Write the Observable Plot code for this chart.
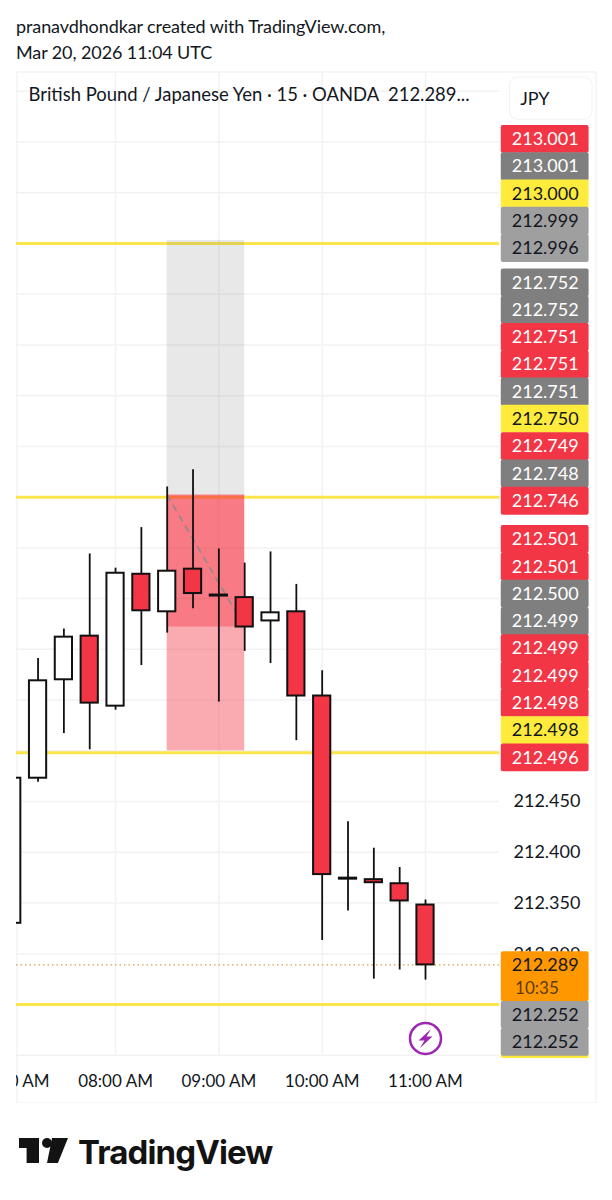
<!DOCTYPE html>
<html><head><meta charset="utf-8">
<script src="https://cdn.jsdelivr.net/npm/d3@7"></script>
<script src="https://cdn.jsdelivr.net/npm/@observablehq/plot@0.6"></script>
<style>
html,body{margin:0;padding:0;background:#fff;width:612px;height:1200px;overflow:hidden}
body{font-family:Lato,sans-serif;color:#131722}
#head{height:71px;box-sizing:border-box;padding:13px 0 0 16px;font-size:18px;line-height:26px;letter-spacing:-.1px;white-space:nowrap}
#chart{height:1032px}
#chart svg{display:block}
#foot{position:relative;height:97px}
#foot div{position:absolute;background:#131313}
#foot .word{background:none;left:78px;top:27px;font:700 33px/44px Inter,sans-serif;letter-spacing:-.9px;color:#131313}
</style></head><body>
<div id="head">pranavdhondkar created with TradingView.com,<br>Mar 20, 2026 11:04 UTC</div>
<div id="chart"></div>
<div id="foot">
 <div style="left:19px;top:35px;width:20px;height:25px;clip-path:polygon(0 0,100% 0,100% 100%,38% 100%,38% 40%,0 40%)"></div>
 <div style="left:42px;top:35px;width:10px;height:10px;border-radius:50%"></div>
 <div style="left:47px;top:35px;width:21px;height:25px;clip-path:polygon(24% 0,100% 0,52% 100%,0 100%)"></div>
 <div class="word">TradingView</div>
</div>
<script>
const at=(h,m=0)=>new Date(Date.UTC(2026,2,20,h,m));
const shift=(d,m)=>new Date(+d+m*60000);
// candles, 15 minute bars
const barHours =[7,7,7,7,8,8,8,8,9,9,9,9,10,10,10,10,11];
const barMins  =[0,15,30,45,0,15,30,45,0,15,30,45,0,15,30,45,0];
const opens =[212.330,212.473,212.570,212.613,212.544,212.674,212.637,212.679,212.6535,212.651,212.628,212.637,212.554,212.3745,212.373,212.369,212.348];
const closes=[212.473,212.569,212.612,212.547,212.675,212.638,212.677,212.655,212.6525,212.622,212.636,212.554,212.378,212.3735,212.370,212.352,212.289];
const highs =[212.480,212.591,212.620,212.694,212.680,212.720,212.760,212.777,212.699,212.685,212.696,212.664,212.579,212.430,212.404,212.385,212.353];
const lows  =[212.320,212.469,212.517,212.501,212.540,212.584,212.616,212.640,212.548,212.598,212.586,212.510,212.313,212.342,212.275,212.284,212.274];
const candles=opens.map((o,i)=>({t:at(barHours[i],barMins[i]),o,c:closes[i],h:highs[i],l:lows[i]}));
const halfBar=5; // minutes

const levels=[213.000,212.750,212.498,212.250];
const lastPrice=212.289;
const gridPrices=d3.range(0,20).map(i=>212.2+i*0.05);
const hourTicks=[at(7),at(8),at(9),at(10),at(11)];
const priceTicks=[212.45,212.40,212.35,212.30];
// position tool
const zoneLeft=at(8,30), zoneRight=at(9,15);
const stopTop=213.003, entry=212.752, target=212.500, reached=212.622;

// price tags: value, colour, stacks read bottom-up from a base price
const stackStep=0.0269;
const RED="#f23645",GR="#7f7f7f",LG="#9f9f9f",YE="#ffeb3b";
const stackBases=[212.995,212.746,212.493,212.2126];
const stackValues=[
 ["213.001","213.001","213.000","212.999","212.996"],
 ["212.752","212.752","212.751","212.751","212.751","212.750","212.749","212.748","212.746"],
 ["212.501","212.501","212.500","212.499","212.499","212.499","212.498","212.498","212.496"],
 ["212.252","212.252"]];
const stackFills=[
 [RED,GR,YE,LG,LG],
 [GR,GR,RED,RED,GR,YE,RED,GR,RED],
 [RED,RED,GR,GR,RED,RED,RED,YE,RED],
 [LG,LG]];
const tags=stackValues.flatMap((vals,g)=>vals.map((label,i)=>({
  label,fill:stackFills[g][i],
  y:stackBases[g]+(vals.length-1-i)*stackStep,
  ink:(stackFills[g][i]===RED||stackFills[g][i]===GR)?"#fff":"#131722"})));
const chartStart=new Date(Date.UTC(2026,2,20,7,2,29));
const tagLeft=at(11,44), tagRight=at(12,35), tagMid=new Date(Date.UTC(2026,2,20,12,9,30)), chartEnd=at(11,43);

// lightning icon drawn as a custom dot symbol
const boltSymbol={draw(c){
  c.moveTo(5.5,-9.5);c.lineTo(-7,2);c.lineTo(-1,2);c.lineTo(-5.5,9.5);c.lineTo(7,-2);c.lineTo(1,-2);c.closePath();
}};

const chart=Plot.plot({
  width:612,height:1032,
  marginLeft:16,marginRight:16,marginTop:0,marginBottom:0,
  style:{fontFamily:"Lato,sans-serif",background:"#fff",color:"#131722"},
  x:{type:"utc",domain:[chartStart,new Date(Date.UTC(2026,2,20,12,39,18))],axis:null},
  y:{domain:[212.1524,213.1695],axis:null},
  marks:[
    Plot.ruleY(gridPrices,{x1:chartStart,x2:chartEnd,stroke:"#f2f2f2",strokeWidth:1.5}),
    Plot.ruleX(hourTicks,{y1:212.2,y2:213.1695,stroke:"#f2f2f2",strokeWidth:1.5,clip:true}),
    Plot.frame({stroke:"#eeeeee",inset:0.5}),
    Plot.ruleY(levels,{x1:chartStart,x2:chartEnd,stroke:"#fbe54a",strokeWidth:3}),
    // position tool
    Plot.rect([0],{x1:zoneLeft,x2:zoneRight,y1:entry,y2:stopTop,fill:"#808080",fillOpacity:.18}),
    Plot.rect([0],{x1:zoneLeft,x2:zoneRight,y1:target,y2:entry,fill:RED,fillOpacity:.42}),
    Plot.rect([0],{x1:zoneLeft,x2:zoneRight,y1:reached,y2:entry,fill:RED,fillOpacity:.42}),
    Plot.line([[zoneLeft,entry],[zoneRight,reached]],{stroke:"#8a8a8a",strokeWidth:1.5,strokeDasharray:"6 6"}),
    Plot.ruleY([lastPrice],{x1:chartStart,x2:chartEnd,stroke:"#dca040",strokeWidth:1.2,strokeDasharray:"1.5 3"}),
    // candles
    Plot.ruleX(candles,{x:"t",y1:"l",y2:"h",stroke:"#111",strokeWidth:1.8,clip:true}),
    Plot.rect(candles,{x1:d=>shift(d.t,-halfBar),x2:d=>shift(d.t,halfBar),y1:"o",y2:"c",
       fill:d=>d.c>d.o?"#fff":RED,stroke:"#111",strokeWidth:2,clip:true}),
    // axes
    Plot.axisX(hourTicks,{anchor:"bottom",tickSize:0,tickPadding:-29,tickFormat:d3.utcFormat("%I:%M %p"),fontSize:17,clip:true,label:null,fill:"#131722"}),
    Plot.axisY(priceTicks,{anchor:"right",tickSize:0,tickPadding:-83,tickFormat:d3.format(".3f"),fontSize:18,textAnchor:"start",label:null,fill:"#131722"}),
    // hidden yellow tag peeping out
    Plot.rect([0],{x1:tagLeft,x2:tagRight,y1:212.1968,y2:212.2047,fill:YE,rx:2}),
    // tags
    Plot.rect(tags,{x1:tagLeft,x2:tagRight,y1:d=>d.y-stackStep/2-0.0003,y2:d=>d.y+stackStep/2+0.0003,fill:d=>d.fill,rx:2}),
    Plot.rect([0],{x1:tagLeft,x2:tagRight,y1:212.253,y2:212.302,fill:"#ff9800",rx:2}),
    Plot.text(tags,{x:tagMid,y:"y",text:"label",fill:d=>d.ink,fontSize:18}),
    Plot.text(["212.289"],{x:tagMid,y:lastPrice,text:d=>d,fill:"#131722",fontSize:18}),
    Plot.text(["10:35"],{x:at(11,52),y:212.2658,text:d=>d,fill:"#5a3a10",fontSize:17,textAnchor:"start"}),
    // currency button
    Plot.rect([0],{x1:at(11,49),x2:at(12,37),y1:213.122,y2:213.1636,fill:"#fff",stroke:"#f2f2f2",rx:8}),
    Plot.text(["JPY"],{x:at(11,55),y:213.1425,text:d=>d,fontSize:18,textAnchor:"start",fill:"#131722"}),
    // title
    Plot.text(["British Pound / Japanese Yen \u00b7 15 \u00b7 OANDA  212.289..."],{frameAnchor:"top-left",dx:12,dy:16,text:d=>d,fontSize:18.45,textAnchor:"start",lineAnchor:"top",fill:"#131722"}),
    // lightning
    Plot.dot([0],{x:at(11),y:212.2165,r:15.5,stroke:"#9c27b0",strokeWidth:2.5,fill:"#fff"}),
    Plot.dot([0],{x:at(11),y:212.2165,symbol:boltSymbol,fill:"#9c27b0",r:6})
  ]
});
document.getElementById("chart").appendChild(chart);
</script>
</body></html>
